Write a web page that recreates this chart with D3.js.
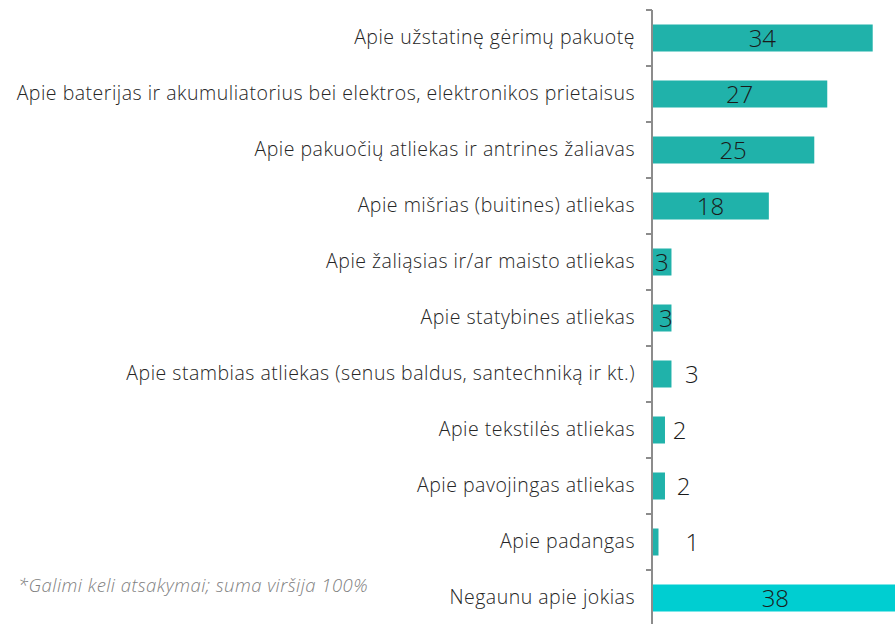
<!DOCTYPE html>
<html>
<head>
<meta charset="utf-8">
<script src="https://cdn.jsdelivr.net/npm/d3@7"></script>
<style>
  body { margin: 0; background: #fff; }
  svg { display: block; }
</style>
</head>
<body>
<div id="chart"></div>
<script>
const categories = [
  'Apie užstatinę gėrimų pakuotę',
  'Apie baterijas ir akumuliatorius bei elektros, elektronikos prietaisus',
  'Apie pakuočių atliekas ir antrines žaliavas',
  'Apie mišrias (buitines) atliekas',
  'Apie žaliąsias ir/ar maisto atliekas',
  'Apie statybines atliekas',
  'Apie stambias atliekas (senus baldus, santechniką ir kt.)',
  'Apie tekstilės atliekas',
  'Apie pavojingas atliekas',
  'Apie padangas',
  'Negaunu apie jokias'
];
const values = [34, 27, 25, 18, 3, 3, 3, 2, 2, 1, 38];
const valueLabels = ['34', '27', '25', '18', '3', '3', '3', '2', '2', '1', '38'];
const footnote = '*Galimi keli atsakymai; suma viršija 100%';

const w = 895;
const h = 624;
const axisX = 652;

const svg = d3.select('#chart')
  .append('svg')
  .attr('width', w)
  .attr('height', h)

const xScale = d3.scaleLinear()
  .domain([0, 34])
  .range([axisX, 872.7])

const yScale = d3.scaleBand()
  .domain(categories)
  .range([10, 626])

const barH = 27;

// bars
svg.selectAll('rect.bar')
  .data(categories)
  .enter()
  .append('rect')
  .attr('class', 'bar')
  .attr('x', axisX)
  .attr('y', d => yScale(d) + (yScale.bandwidth() - barH) / 2)
  .attr('width', (d, i) => xScale(values[i]) - axisX)
  .attr('height', barH)
  .attr('fill', (d, i) => i === categories.length - 1 ? '#00CED1' : '#20B2AA')

// value labels - big bars inside, small ones next to the bar (like the original)
const labelShift = [0, 0, 0, 0, 0, 4, 30, 21, 25, 37, 0];
svg.selectAll('text.val')
  .data(categories)
  .enter()
  .append('text')
  .attr('class', 'val')
  .attr('x', (d, i) => {
    const x0 = (axisX + xScale(values[i])) / 2;
    return x0 + labelShift[i];
  })
  .attr('y', d => yScale(d) + yScale.bandwidth() / 2)
  .attr('dy', '0.36em')
  .attr('text-anchor', 'middle')
  .attr('font-family', 'Open Sans, sans-serif')
  .attr('font-weight', 300)
  .attr('font-size', 24)
  .attr('fill', '#1a1a1a')
  .text((d, i) => valueLabels[i])

// y axis with ticks between categories
const yAxis = d3.axisLeft(yScale).tickSize(0).tickPadding(17);
const gAxis = svg.append('g')
  .attr('transform', 'translate(' + axisX + ',0)')
  .call(yAxis)
gAxis.select('.domain').remove();
gAxis.selectAll('text')
  .attr('font-family', 'Open Sans, sans-serif')
  .attr('font-weight', 300)
  .attr('font-size', 19.5)
  .attr('letter-spacing', 0.5)
  .attr('fill', '#262626')

svg.append('line')
  .attr('x1', axisX).attr('x2', axisX)
  .attr('y1', 10).attr('y2', h)
  .attr('stroke', '#8c8c8c')
  .attr('stroke-width', 2)

svg.selectAll('line.tick')
  .data(categories)
  .enter()
  .append('line')
  .attr('class', 'tick')
  .attr('x1', axisX - 6).attr('x2', axisX)
  .attr('y1', d => yScale(d))
  .attr('y2', d => yScale(d))
  .attr('stroke', '#8c8c8c')
  .attr('stroke-width', 2)

svg.append('text')
  .attr('x', 18)
  .attr('y', 592)
  .attr('font-family', 'Open Sans, sans-serif')
  .attr('font-style', 'italic')
  .attr('font-weight', 300)
  .attr('font-size', 18.5)
  .attr('letter-spacing', 0.45)
  .attr('fill', '#7f7f7f')
  .text(footnote)
</script>
</body>
</html>
